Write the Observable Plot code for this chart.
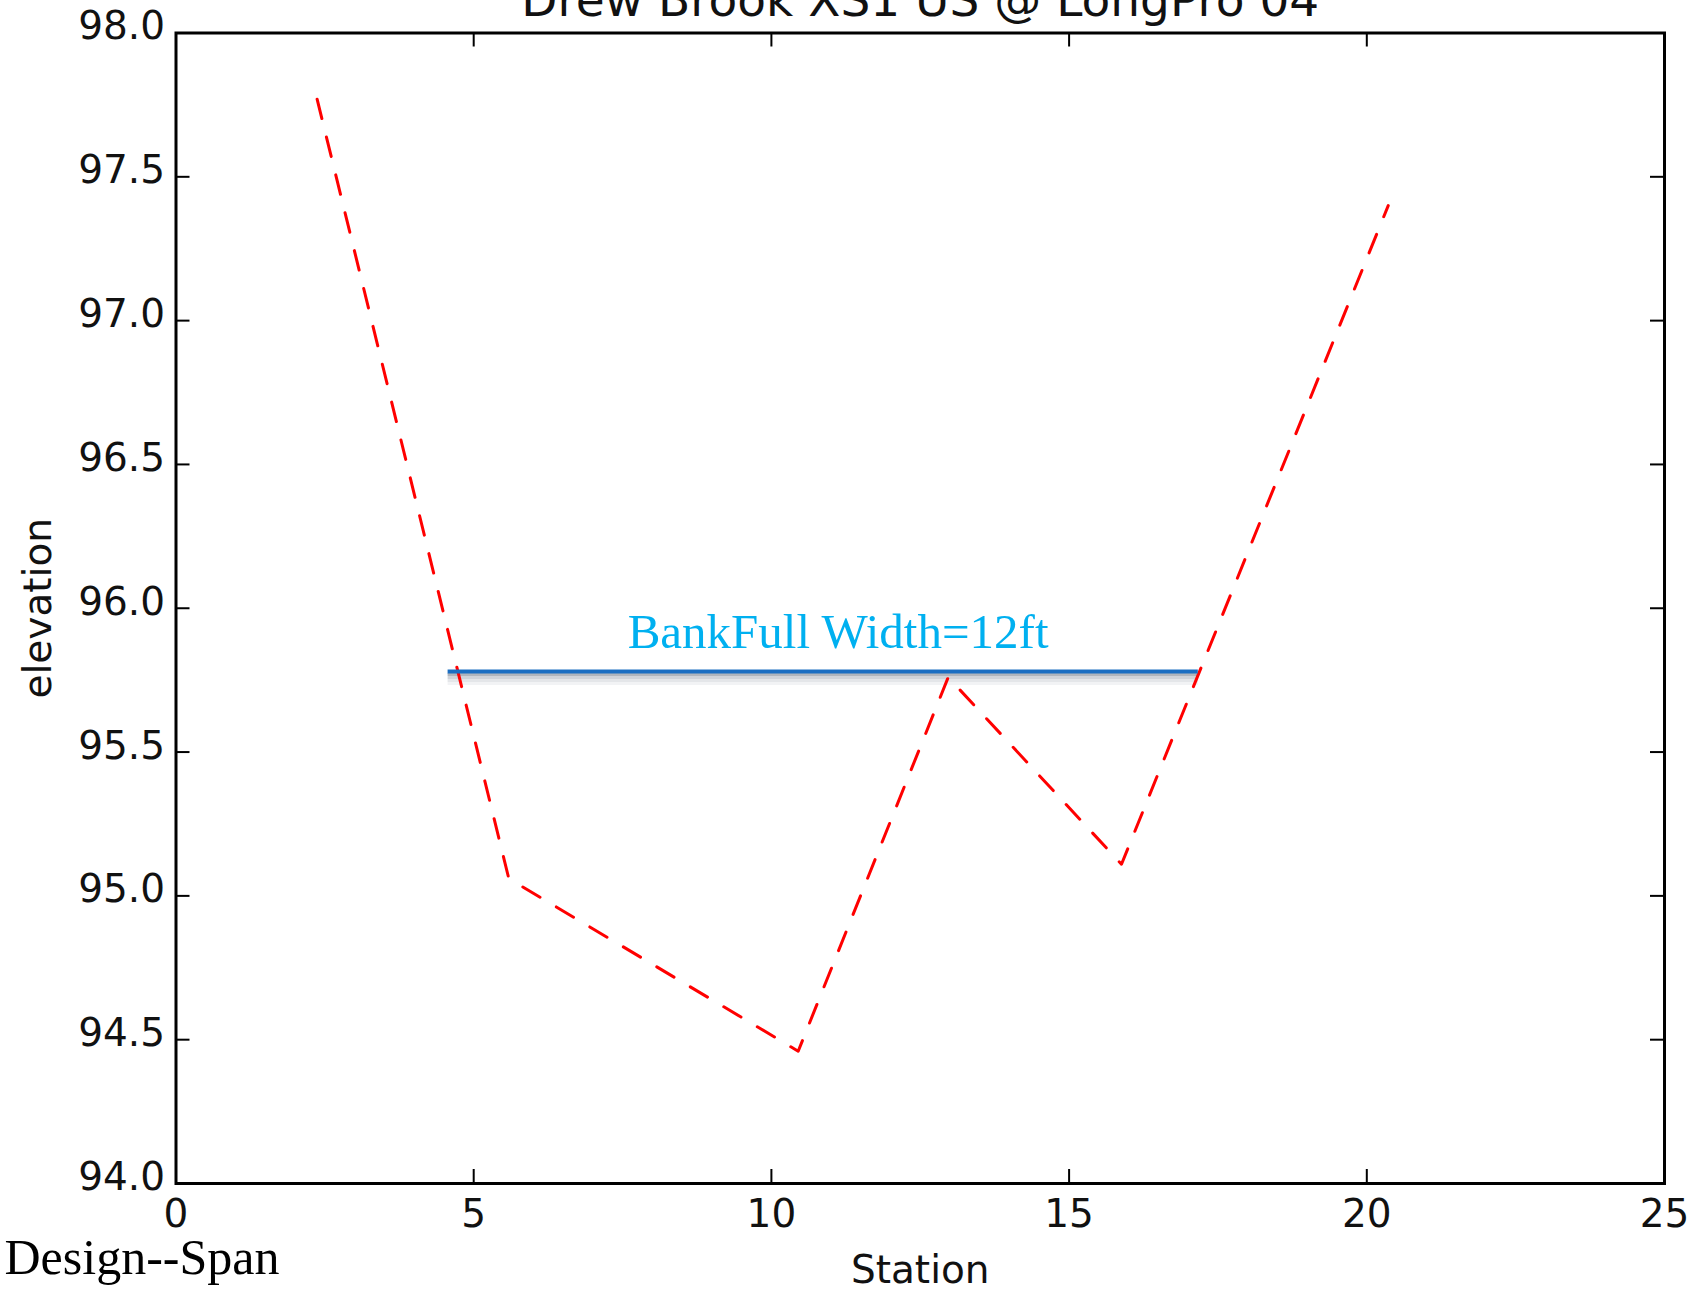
<!DOCTYPE html>
<html>
<head>
<meta charset="utf-8">
<script src="https://cdn.jsdelivr.net/npm/d3@7"></script>
<script src="https://cdn.jsdelivr.net/npm/@observablehq/plot@0.6"></script>
<style>
  html, body { margin: 0; padding: 0; background: #fff; overflow: hidden; }
  #chart svg { display: block; }
</style>
</head>
<body>
<div id="chart"></div>
<script>
// ---- data ----
const station   = [2.37, 5.59, 10.45, 12.97, 15.88, 20.36];
const elevation = [97.77, 95.06, 94.46, 95.76, 95.11, 97.40];
const xTicks = [0, 5, 10, 15, 20, 25];
const yTicks = [94.0, 94.5, 95.0, 95.5, 96.0, 96.5, 97.0, 97.5, 98.0];
const bankfullY = 95.78;
const bankfullX1 = 4.57;
const bankfullX2 = 17.17;
const bankfullLabelX = 11.12;
const bankfullLabel = "BankFull Width=12ft";
const titleText = "Drew Brook XS1 US @ LongPro 04";
const xLabel = "Station";
const yLabel = "elevation";
const footnote = "Design--Span";

// ---- layout ----
const W = 1691, H = 1290;
const mL = 175.5, mR = 27, mT = 32.5, mB = 107;
const innerW = W - mL - mR, innerH = H - mT - mB;
const tickLen = 14;
const sans = "DejaVu Sans";
const serif = "Liberation Serif";

const profile = station.map((s, i) => ({station: s, elevation: elevation[i]}));
const bank = [{x1: bankfullX1, x2: bankfullX2, y: bankfullY}];
const shadowLayers = [
  {dy: 3, stroke: "#8f96a1", op: 0.7},
  {dy: 6, stroke: "#a9afb9", op: 0.55},
  {dy: 9, stroke: "#c4c8cf", op: 0.45},
  {dy: 12, stroke: "#dfe1e5", op: 0.4}
];

const chart = Plot.plot({
  width: W, height: H,
  marginLeft: mL, marginRight: mR, marginTop: mT, marginBottom: mB,
  x: {domain: [0, 25]},
  y: {domain: [94, 98]},
  style: {fontFamily: sans, background: "#fff", overflow: "visible", color: "#000"},
  marks: [
    // bankfull line shadow
    ...shadowLayers.map(s => Plot.ruleY(bank, {y: "y", x1: "x1", x2: "x2", stroke: s.stroke, strokeWidth: 3, dy: s.dy, strokeOpacity: s.op})),
    // profile
    Plot.line(profile, {x: "station", y: "elevation", stroke: "#ff0000", strokeWidth: 3, strokeDasharray: "20,19"}),
    // bankfull line
    Plot.ruleY(bank, {y: "y", x1: "x1", x2: "x2", stroke: "#1b6ec2", strokeWidth: 4}),
    Plot.text([bankfullLabel], {x: bankfullLabelX, y: bankfullY, text: d => d, dy: -24, lineAnchor: "bottom",
      textAnchor: "middle", fontFamily: serif, fontSize: 49, fill: "#00b0f0"}),
    // inward ticks on all sides
    Plot.ruleX(xTicks, {x: d => d, insetTop: innerH - tickLen, stroke: "#000", strokeWidth: 2}),
    Plot.ruleX(xTicks, {x: d => d, insetBottom: innerH - tickLen, stroke: "#000", strokeWidth: 2}),
    Plot.ruleY(yTicks, {y: d => d, insetRight: innerW - tickLen, stroke: "#000", strokeWidth: 2}),
    Plot.ruleY(yTicks, {y: d => d, insetLeft: innerW - tickLen, stroke: "#000", strokeWidth: 2}),
    // tick labels
    Plot.axisX({ticks: xTicks, tickSize: 0, tickPadding: 16, fontSize: 39, label: null, tickFormat: d => String(d), fill: "#111"}),
    Plot.axisY({ticks: yTicks, tickSize: 0, tickPadding: 11, fontSize: 39, label: null, tickFormat: d3.format(".1f"), dy: -6, fill: "#111"}),
    // frame
    Plot.frame({stroke: "#000", strokeWidth: 3}),
    // titles and labels
    Plot.text([titleText], {text: d => d, frameAnchor: "top", dy: -17.5, lineAnchor: "bottom", textAnchor: "middle", fontSize: 47, fill: "#111"}),
    Plot.text([xLabel], {text: d => d, frameAnchor: "bottom", dy: 99, lineAnchor: "bottom", textAnchor: "middle", fontSize: 39, fill: "#111"}),
    Plot.text([yLabel], {text: d => d, frameAnchor: "left", dx: 50 - mL, rotate: -90, lineAnchor: "bottom", textAnchor: "middle", fontSize: 39, fill: "#111"}),
    Plot.text([footnote], {text: d => d, frameAnchor: "bottom-left", dx: 4 - mL, dy: 1273 - (H - mB), textAnchor: "start",
      lineAnchor: "bottom", fontFamily: serif, fontSize: 50, fill: "#000"})
  ]
});
document.getElementById("chart").appendChild(chart);
</script>
</body>
</html>
